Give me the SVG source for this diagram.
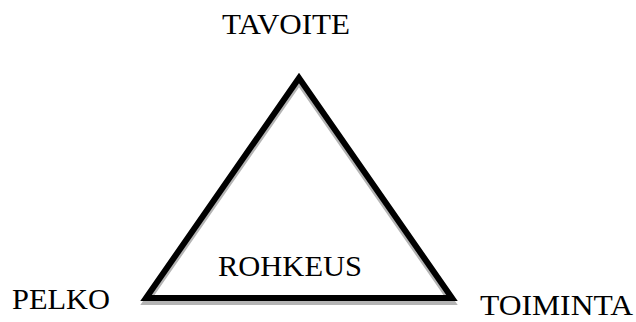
<svg xmlns="http://www.w3.org/2000/svg" width="636" height="322" viewBox="0 0 636 322">
<style>
.t{font-family:"Liberation Serif","Times New Roman",serif;font-size:30px;fill:#000}
</style>
<rect width="636" height="322" fill="#fff"/>
<g id="triangle">
<polygon points="299,82 146,302 452,302" fill="none" stroke="#b4b4b4" stroke-width="6" stroke-linejoin="miter"/>
<polygon points="299,78 146,298 452,298" fill="none" stroke="#000" stroke-width="6" stroke-linejoin="miter"/>
</g>
<g id="tavoite"><text class="t" x="222" y="34" textLength="128" lengthAdjust="spacingAndGlyphs">TAVOITE</text></g>
<g id="pelko"><text class="t" x="12" y="309" textLength="98" lengthAdjust="spacingAndGlyphs">PELKO</text></g>
<g id="toiminta"><text class="t" x="480" y="315" textLength="153" lengthAdjust="spacingAndGlyphs">TOIMINTA</text></g>
<g id="rohkeus"><text class="t" x="218" y="276" textLength="144" lengthAdjust="spacingAndGlyphs">ROHKEUS</text></g>
</svg>
